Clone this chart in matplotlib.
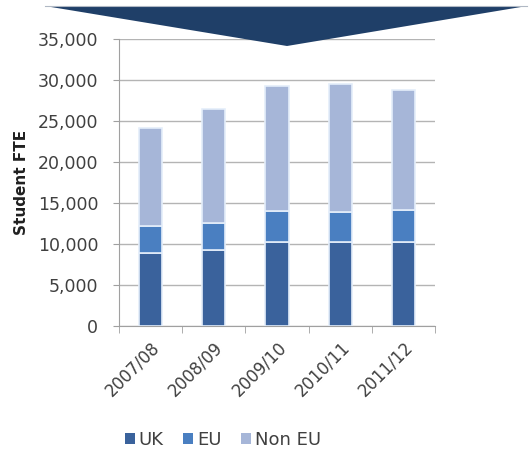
import matplotlib
matplotlib.use("Agg")
import matplotlib.pyplot as plt
from matplotlib.patches import Polygon, Patch
import numpy as np

years = ["2007/08", "2008/09", "2009/10", "2010/11", "2011/12"]
uk = [8900, 9300, 10300, 10200, 10200]
eu = [3300, 3300, 3700, 3700, 4000]
non_eu = [12000, 13900, 15300, 15600, 14600]
series_names = ["UK", "EU", "Non EU"]
colors = ["#3a629c", "#4a7fc1", "#a6b6d8"]
y_ticks = [0, 5000, 10000, 15000, 20000, 25000, 30000, 35000]

plt.rcParams["font.family"] = ["DejaVu Sans"]

W, H = 529, 454
fig = plt.figure(figsize=(W / 100, H / 100), dpi=100)
ax = fig.add_axes([119 / W, 1 - 326 / H, (435 - 119) / W, (326 - 39) / H])

x = np.arange(len(years))
bottom = np.zeros(len(years))
for vals, c in zip([uk, eu, non_eu], colors):
    ax.bar(x, vals, width=0.37, bottom=bottom, color=c,
           edgecolor="#e4eefa", linewidth=1.2, zorder=3)
    bottom += np.array(vals)

ax.set_xlim(-0.5, len(years) - 0.5)
ax.set_ylim(0, 35000)
ax.set_yticks(y_ticks)
ax.set_yticklabels([f"{v:,}" for v in y_ticks], fontsize=12.5, color="#404040")
ax.yaxis.grid(True, color="#b4b4b4", linewidth=1.0, zorder=0)
ax.set_axisbelow(True)

ax.set_xticks(x)
ax.set_xticklabels(years, rotation=45, ha="right", rotation_mode="anchor",
                   fontsize=12, color="#404040")
ax.tick_params(axis="x", length=0, pad=9)
ax.set_xticks(np.arange(-0.5, len(years)), minor=True)
ax.tick_params(axis="x", which="minor", length=5, color="#a0a0a0")
ax.tick_params(axis="y", length=4, color="#a0a0a0", pad=11)

for side in ["top", "right"]:
    ax.spines[side].set_visible(False)
for side in ["left", "bottom"]:
    ax.spines[side].set_color("#a0a0a0")

ax.set_ylabel("Student FTE", fontsize=11, fontweight="bold", color="#202020", labelpad=6)

handles = [Patch(facecolor=c, edgecolor="none") for c in colors]
fig.legend(handles, series_names, loc="center", bbox_to_anchor=(223 / W, 1 - 440 / H),
           ncol=3, frameon=False, fontsize=13, handlelength=0.55, handleheight=0.55,
           handletextpad=0.2, columnspacing=1.1, labelcolor="#404040")

# header arrow pointing down onto the chart
arrow = Polygon([(45 / W, 1 - 6 / H), (527 / W, 1 - 6 / H), (287 / W, 1 - 46 / H)],
                closed=True, transform=fig.transFigure, facecolor="#1f3f68",
                edgecolor="none", zorder=10)
fig.add_artist(arrow)
fig.add_artist(plt.Line2D([45 / W, 527 / W], [1 - 5.5 / H, 1 - 5.5 / H],
                          transform=fig.transFigure, color="#b0b8c4", linewidth=0.8, zorder=11))

fig.savefig("out.png", dpi=100)
